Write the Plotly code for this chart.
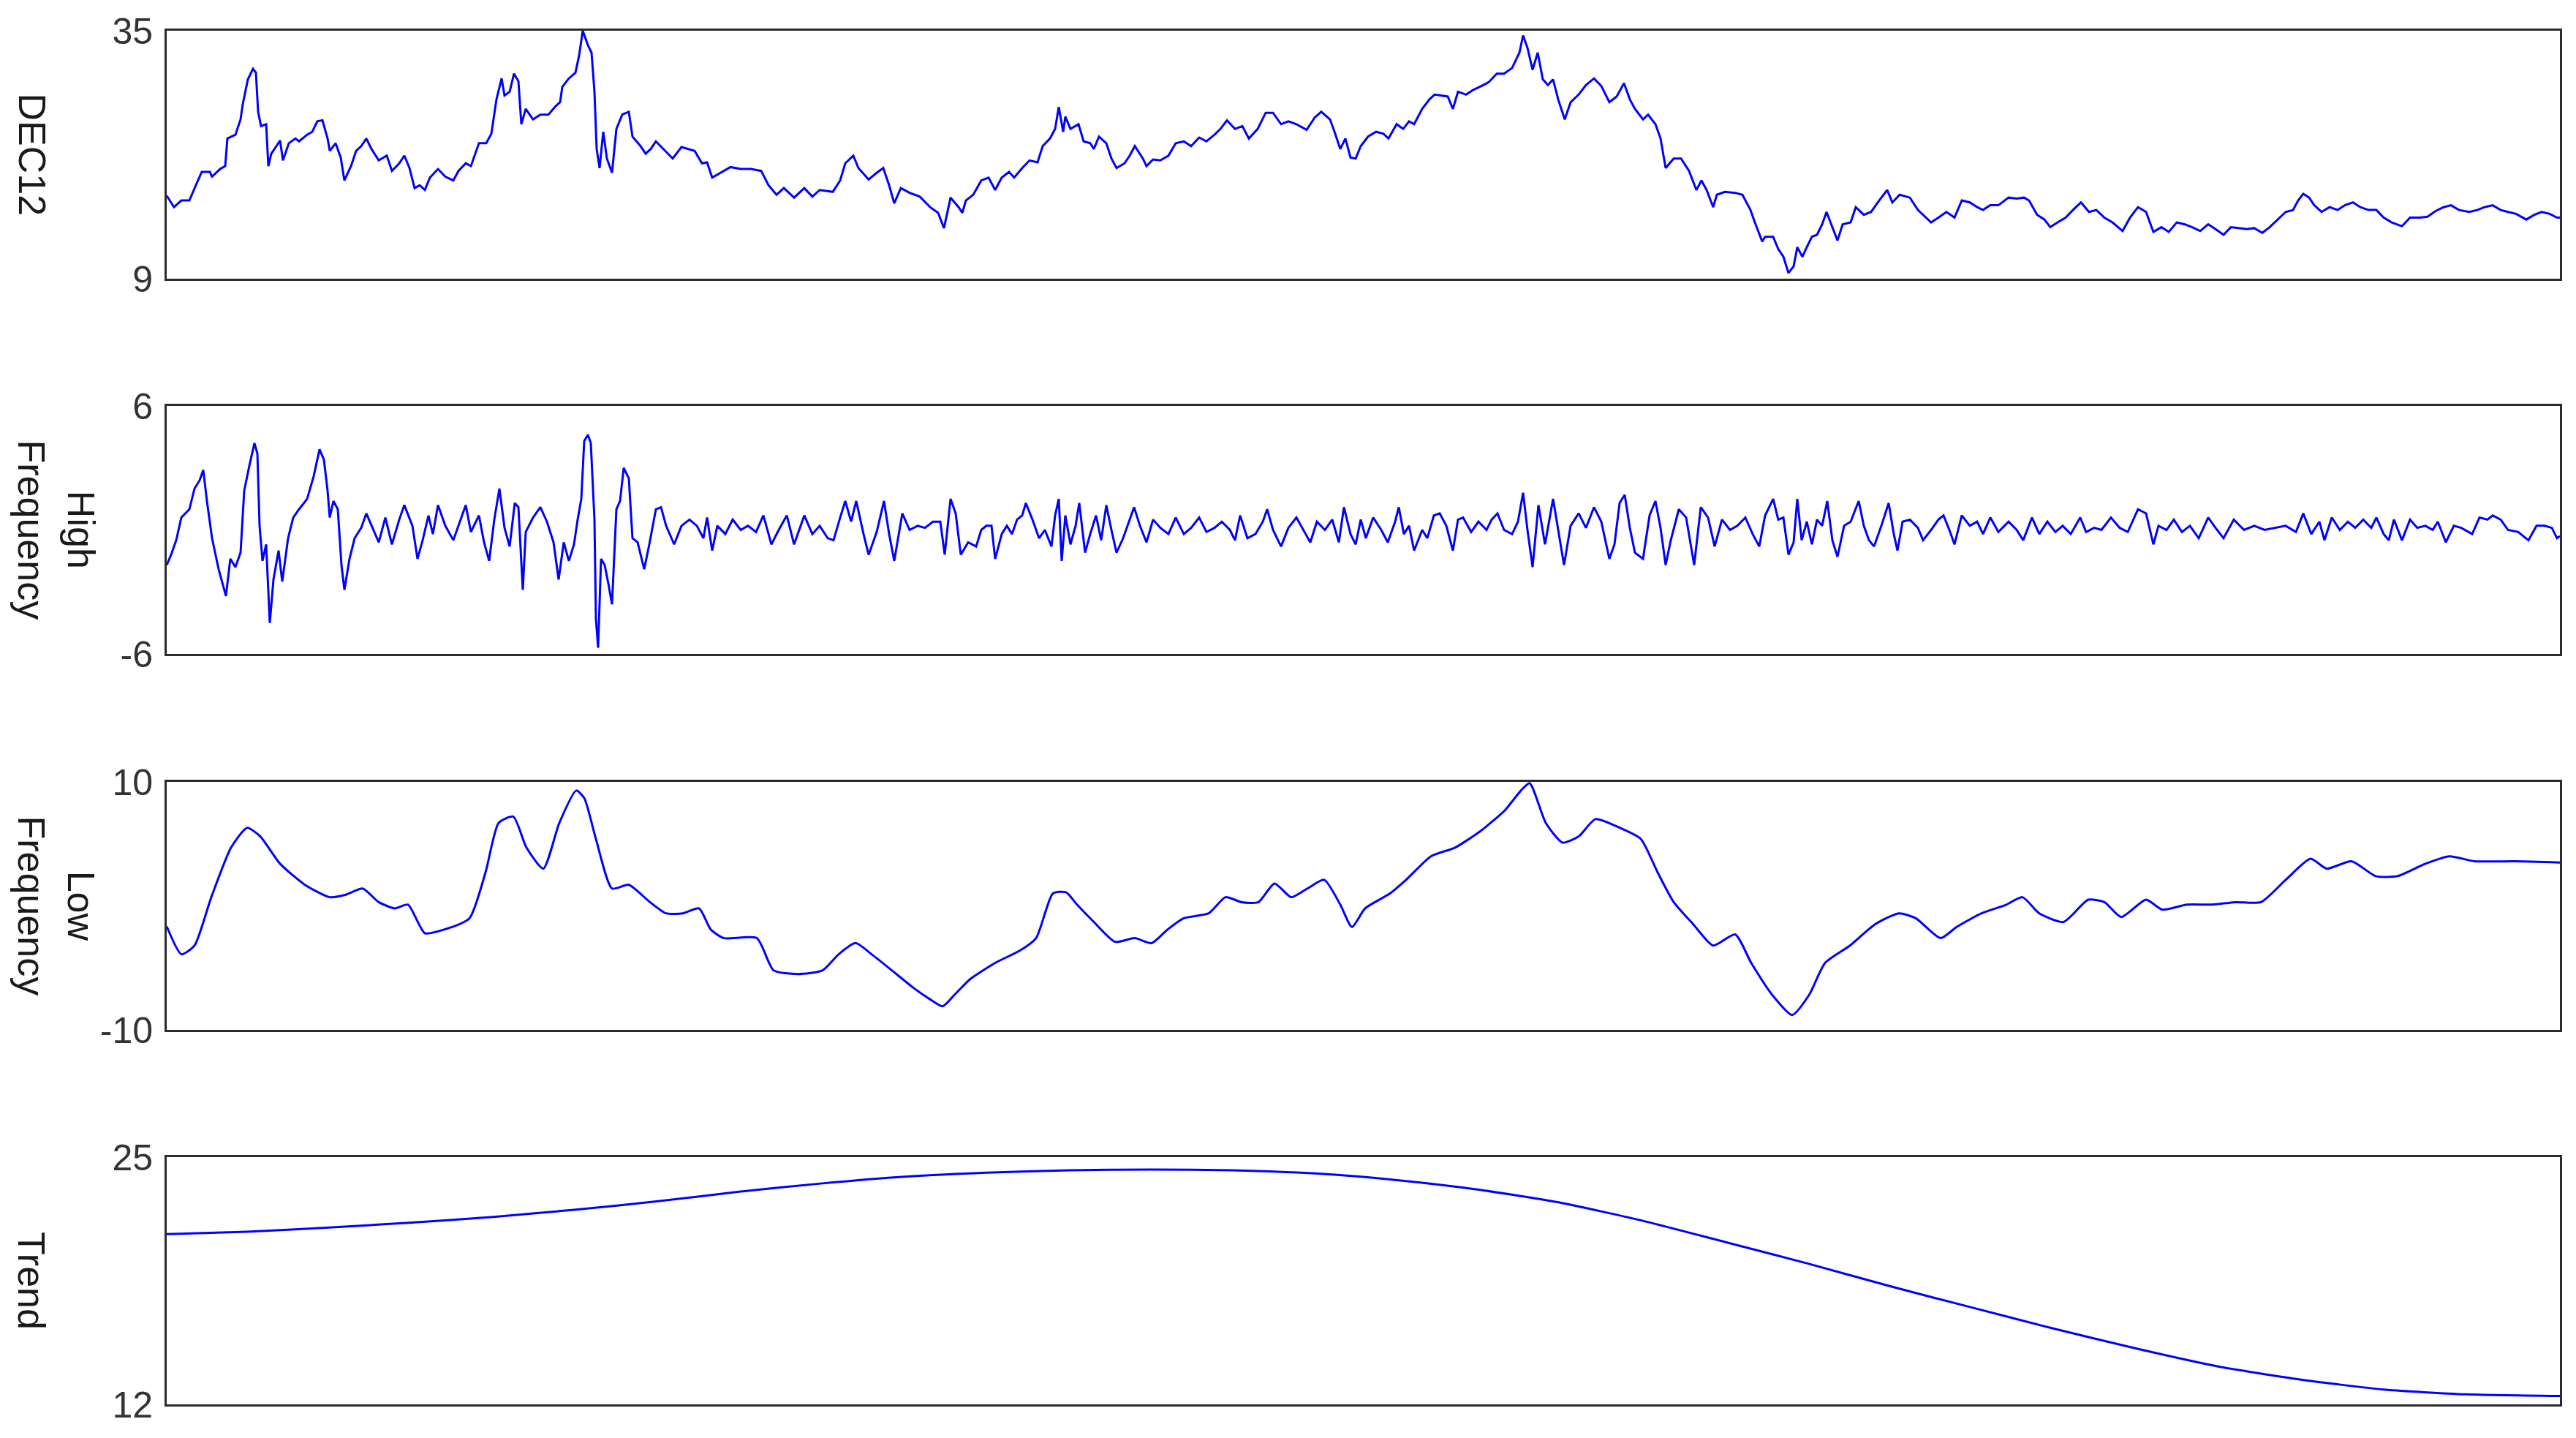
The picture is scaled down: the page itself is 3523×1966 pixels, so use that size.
import plotly.graph_objects as go
from plotly.subplots import make_subplots

# ---------------- data (day index, value) ----------------
dec12 = [
    (0,17.7),(10,16.5),(20,17.2),(31,17.2),(41,19.0),(48,20.2),(59,20.2),(62,19.7),(73,20.5),(80,20.8),
    (83,23.7),(94,24.1),(101,25.7),(104,27.3),(111,29.9),(118,31.0),(122,30.6),(125,26.5),(129,25.0),(136,25.2),
    (139,20.8),(143,22.1),(150,22.9),(155,23.5),(159,21.4),(167,23.2),(176,23.7),(181,23.4),(192,24.1),(199,24.4),
    (206,25.5),(213,25.6),(220,23.7),(223,22.4),(231,23.2),(238,21.7),(243,19.3),(252,20.8),(259,22.4),(266,22.9),
    (273,23.7),(280,22.6),(290,21.4),(301,21.9),(308,20.3),(318,21.1),(325,21.9),(332,20.6),(339,18.5),(346,18.8),
    (353,18.3),(360,19.6),(371,20.5),(381,19.7),(392,19.3),(399,20.3),(409,21.1),(416,20.8),(427,23.2),(437,23.2),
    (444,24.2),(448,26.5),(451,27.8),(458,30.0),(462,28.2),(469,28.6),(475,30.5),(481,29.7),(485,25.2),(491,26.8),
    (501,25.7),(511,26.2),(522,26.2),(532,27.1),(538,27.5),(541,29.1),(550,30.0),(559,30.6),(564,32.4),(569,35.0),
    (576,33.5),(581,32.7),(585,28.6),(588,22.6),(592,20.6),(597,24.4),(602,21.6),(609,20.1),(615,24.7),(623,26.2),
    (632,26.5),(637,23.9),(648,22.9),(655,22.1),(662,22.6),(669,23.4),(679,22.6),(692,21.6),(704,22.8),(722,22.4),
    (732,21.1),(739,21.2),(746,19.6),(757,20.1),(771,20.7),(785,20.5),(799,20.5),(813,20.3),(823,18.8),(834,17.8),
    (844,18.5),(858,17.5),(872,18.5),(883,17.6),(893,18.3),(911,18.1),(921,19.3),(928,21.1),(939,21.9),(946,20.6),
    (960,19.4),(971,20.1),(980,20.6),(988,18.8),(995,16.9),(1004,18.5),(1016,18.0),(1030,17.6),(1044,16.5),(1055,15.9),
    (1063,14.3),(1072,17.5),(1083,16.5),(1088,15.9),(1093,17.2),(1103,17.8),(1114,19.3),(1124,19.6),(1133,18.3),(1142,19.6),
    (1152,20.2),(1159,19.6),(1170,20.6),(1180,21.4),(1191,21.2),(1198,22.9),(1208,23.7),(1215,24.7),(1220,27.0),(1226,24.4),
    (1229,26.0),(1236,24.7),(1247,25.2),(1254,23.4),(1263,23.2),(1268,22.6),(1275,23.9),(1285,23.2),(1292,21.6),(1299,20.6),
    (1310,21.1),(1317,21.9),(1324,22.9),(1335,21.6),(1340,20.8),(1349,21.5),(1359,21.4),(1370,21.9),(1380,23.2),(1391,23.4),
    (1401,22.9),(1412,23.8),(1422,23.4),(1433,24.1),(1441,24.7),(1450,25.6),(1461,24.7),(1471,25.0),(1480,23.7),(1492,24.7),
    (1503,26.4),(1513,26.4),(1524,25.2),(1534,25.5),(1545,25.2),(1559,24.6),(1570,25.9),(1579,26.5),(1591,25.7),(1598,24.2),
    (1605,22.6),(1612,23.7),(1619,21.7),(1626,21.6),(1633,22.9),(1643,23.9),(1654,24.4),(1664,24.2),(1671,23.7),(1682,25.2),
    (1691,24.7),(1699,25.5),(1706,25.2),(1717,26.8),(1727,27.8),(1734,28.3),(1745,28.2),(1752,28.1),(1759,26.8),(1766,28.6),
    (1777,28.3),(1787,28.8),(1798,29.2),(1808,29.6),(1819,30.5),(1829,30.5),(1840,31.1),(1850,32.7),(1855,34.5),(1861,33.2),
    (1868,30.9),(1875,32.7),(1882,29.9),(1889,29.3),(1896,29.9),(1903,27.8),(1912,25.7),(1920,27.5),(1931,28.3),(1941,29.3),
    (1952,30.0),(1962,29.2),(1973,27.5),(1983,28.1),(1993,29.5),(2001,27.8),(2008,26.8),(2019,25.7),(2026,26.2),(2036,25.2),
    (2043,23.7),(2050,20.6),(2061,21.6),(2071,21.6),(2082,20.3),(2092,18.3),(2099,19.3),(2106,18.3),(2115,16.5),(2120,17.8),
    (2131,18.1),(2145,18.0),(2155,17.8),(2166,16.2),(2173,14.7),(2182,12.9),(2186,13.4),(2197,13.4),(2204,12.1),(2211,11.3),
    (2218,9.6),(2225,10.3),(2230,12.3),(2237,11.3),(2243,12.3),(2250,13.4),(2257,13.6),(2264,14.7),(2270,16.0),(2278,14.4),
    (2285,13.0),(2292,14.7),(2303,14.9),(2310,16.5),(2321,15.7),(2331,16.0),(2342,17.2),(2353,18.3),(2360,17.0),(2370,17.8),
    (2384,17.5),(2395,16.2),(2406,15.4),(2413,14.9),(2423,15.4),(2434,16.0),(2445,15.4),(2455,17.2),(2466,17.0),(2476,16.5),
    (2484,16.2),(2494,16.7),(2505,16.7),(2519,17.5),(2530,17.4),(2540,17.5),(2547,17.2),(2558,15.7),(2568,15.2),(2576,14.4),
    (2586,14.9),(2597,15.4),(2607,16.2),(2618,17.0),(2629,16.0),(2639,16.2),(2650,15.4),(2661,14.9),(2675,14.0),(2685,15.4),
    (2696,16.5),(2707,16.0),(2717,13.9),(2728,14.4),(2738,13.9),(2749,14.9),(2760,14.7),(2770,14.4),(2781,14.0),(2792,14.7),
    (2802,14.2),(2813,13.6),(2823,14.4),(2834,14.3),(2845,14.2),(2855,14.3),(2866,13.8),(2876,14.4),(2887,15.2),(2898,16.0),
    (2908,16.2),(2915,17.2),(2922,17.9),(2930,17.5),(2937,16.7),(2947,16.0),(2958,16.5),(2969,16.2),(2979,16.7),(2990,17.0),
    (3000,16.5),(3011,16.2),(3022,16.2),(3032,15.4),(3043,14.9),(3057,14.5),(3068,15.4),(3082,15.4),(3092,15.5),(3103,16.1),
    (3114,16.5),(3124,16.7),(3135,16.2),(3149,16.0),(3160,16.2),(3170,16.5),(3181,16.7),(3192,16.2),(3202,16.0),(3213,15.8),
    (3227,15.2),(3238,15.7),(3248,16.0),(3259,15.8),(3269,15.4),(3273,15.4),
]

high_freq = [
    (0,-1.7),(6,-1.2),(13,-0.5),(20,0.6),(31,1.0),(38,2.0),(45,2.4),(50,2.9),(55,1.4),(62,-0.4),
    (71,-1.9),(76,-2.6),(81,-3.2),(87,-1.4),(94,-1.8),(101,-1.1),(106,1.9),(113,3.1),(120,4.2),(124,3.7),
    (127,0.2),(131,-1.5),(136,-0.7),(141,-4.5),(146,-2.4),(153,-1.0),(158,-2.5),(166,-0.4),(173,0.6),(181,1.0),
    (192,1.5),(201,2.6),(209,3.9),(215,3.4),(220,1.9),(223,0.6),(228,1.4),(234,1.0),(239,-1.7),(243,-2.9),
    (250,-1.4),(257,-0.4),(266,0.1),(273,0.8),(280,0.2),(290,-0.6),(299,0.6),(308,-0.7),(318,0.5),(325,1.2),
    (336,0.2),(343,-1.4),(350,-0.5),(358,0.7),(364,-0.2),(371,1.2),(381,0.2),(392,-0.5),(402,0.5),(409,1.2),
    (416,-0.1),(427,0.7),(434,-0.6),(441,-1.5),(448,0.5),(455,2.0),(462,0.1),(469,-0.8),(476,1.3),(481,1.1),
    (487,-2.9),(491,-0.1),(501,0.6),(511,1.1),(520,0.4),(529,-0.6),(536,-2.4),(543,-0.6),(550,-1.5),(557,-0.7),
    (562,0.5),(567,1.5),(571,4.3),(576,4.6),(580,4.2),(585,0.5),(587,-4.3),(590,-5.7),(594,-1.4),(599,-1.7),
    (604,-2.6),(609,-3.6),(615,1.0),(620,1.4),(625,3.0),(632,2.5),(637,-0.4),(644,-0.6),(653,-1.9),(660,-0.7),
    (669,1.0),(676,1.1),(683,0.2),(694,-0.7),(704,0.2),(715,0.5),(725,0.2),(734,-0.4),(739,0.6),(746,-1.0),
    (753,0.2),(764,-0.2),(774,0.5),(785,0.0),(795,0.2),(806,-0.1),(816,0.7),(827,-0.7),(837,0.0),(848,0.7),
    (858,-0.7),(872,0.7),(883,-0.2),(893,0.2),(904,-0.4),(912,-0.5),(921,0.6),(928,1.4),(936,0.4),(943,1.4),
    (953,-0.2),(960,-1.2),(971,-0.1),(981,1.4),(988,-0.2),(995,-1.5),(1006,0.8),(1016,0.0),(1027,0.2),(1037,0.1),
    (1048,0.4),(1058,0.4),(1064,-1.2),(1072,1.5),(1079,0.8),(1086,-1.2),(1096,-0.6),(1107,-0.8),(1114,0.0),(1121,0.2),
    (1128,0.2),(1133,-1.4),(1142,-0.2),(1149,0.2),(1156,-0.2),(1163,0.5),(1170,0.7),(1175,1.3),(1184,0.5),(1193,-0.4),
    (1201,0.0),(1210,-0.8),(1215,0.7),(1220,1.5),(1224,-1.5),(1229,0.7),(1236,-0.7),(1243,0.2),(1248,1.3),(1256,-1.1),
    (1263,-0.2),(1271,0.7),(1278,-0.5),(1285,1.2),(1292,0.0),(1299,-1.1),(1308,-0.4),(1317,0.5),(1323,1.1),(1331,0.2),
    (1340,-0.6),(1349,0.5),(1359,0.1),(1370,-0.2),(1380,0.6),(1391,-0.2),(1401,0.1),(1412,0.6),(1422,-0.1),(1433,0.1),
    (1443,0.4),(1454,0.0),(1461,-0.5),(1468,0.7),(1478,-0.4),(1489,-0.2),(1499,0.4),(1505,1.0),(1513,0.0),(1524,-0.8),
    (1534,0.1),(1545,0.6),(1556,-0.1),(1564,-0.6),(1573,0.4),(1584,0.0),(1594,0.5),(1603,-0.6),(1610,1.1),(1619,-0.2),
    (1626,-0.7),(1633,0.5),(1640,-0.4),(1650,0.6),(1661,0.0),(1670,-0.6),(1680,0.4),(1685,1.1),(1692,-0.2),(1699,0.2),
    (1706,-1.0),(1717,0.0),(1724,-0.4),(1733,0.7),(1741,0.8),(1750,0.2),(1759,-1.0),(1766,0.5),(1773,0.6),(1784,-0.1),
    (1794,0.4),(1805,0.0),(1812,0.5),(1820,0.8),(1829,0.0),(1840,-0.2),(1848,0.4),(1855,1.8),(1861,0.0),(1868,-1.8),
    (1876,1.2),(1885,-0.7),(1896,1.5),(1903,0.0),(1911,-1.7),(1920,0.2),(1931,0.8),(1941,0.1),(1952,1.1),(1962,0.4),
    (1973,-1.4),(1980,-0.7),(1987,1.3),(1994,1.7),(2001,0.1),(2008,-1.1),(2019,-1.4),(2028,0.7),(2036,1.4),(2043,0.1),
    (2050,-1.7),(2057,-0.5),(2068,1.0),(2078,0.6),(2089,-1.7),(2098,1.1),(2108,0.6),(2117,-0.8),(2127,0.5),(2138,0.0),
    (2148,0.2),(2159,0.6),(2169,-0.2),(2178,-0.8),(2186,0.7),(2197,1.5),(2204,0.5),(2211,0.6),(2218,-1.2),(2225,-0.6),
    (2230,1.5),(2236,-0.5),(2243,0.4),(2250,-0.7),(2257,0.5),(2264,0.2),(2271,1.4),(2278,-0.5),(2285,-1.3),(2294,0.2),
    (2303,0.4),(2314,1.4),(2321,0.2),(2328,-0.5),(2335,-0.8),(2345,0.2),(2355,1.3),(2362,-0.2),(2367,-1.0),(2374,0.4),
    (2384,0.5),(2395,0.1),(2402,-0.5),(2413,0.0),(2423,0.5),(2430,0.7),(2438,0.0),(2445,-0.7),(2455,0.7),(2466,0.2),
    (2476,0.4),(2484,-0.2),(2494,0.6),(2505,-0.1),(2519,0.4),(2530,0.0),(2539,-0.5),(2551,0.6),(2561,-0.2),(2572,0.4),
    (2583,-0.1),(2593,0.2),(2604,-0.2),(2617,0.6),(2625,-0.1),(2636,0.1),(2646,0.0),(2659,0.6),(2671,0.1),(2682,-0.1),
    (2696,1.0),(2707,0.8),(2717,-0.7),(2724,0.2),(2735,0.0),(2745,0.5),(2756,-0.1),(2767,0.2),(2779,-0.4),(2792,0.6),
    (2802,0.1),(2813,-0.4),(2827,0.5),(2841,0.0),(2855,0.2),(2869,0.0),(2884,0.1),(2898,0.2),(2912,-0.1),(2922,0.8),
    (2933,-0.2),(2944,0.4),(2951,-0.5),(2961,0.6),(2972,0.0),(2983,0.4),(2993,0.1),(3004,0.5),(3015,0.1),(3022,0.6),
    (3032,-0.2),(3039,-0.5),(3046,0.5),(3057,-0.5),(3068,0.5),(3078,0.1),(3089,0.2),(3099,0.0),(3106,0.4),(3117,-0.6),
    (3128,0.2),(3138,0.1),(3153,-0.2),(3163,0.6),(3174,0.5),(3181,0.7),(3192,0.5),(3202,0.0),(3216,-0.1),(3230,-0.5),
    (3241,0.2),(3252,0.2),(3262,0.1),(3269,-0.4),(3273,-0.3),
]

low_freq = [
    (0,-1.65),(20,-3.9),(38,-3.2),(61,0.7),(88,4.7),(110,6.3),(128,5.6),(155,3.4),(189,1.7),(223,0.7),
    (245,0.9),(268,1.4),(290,0.3),(312,-0.2),(330,0.1),(353,-2.2),(380,-1.9),(414,-1.0),(436,2.7),(454,6.7),
    (474,7.2),(492,4.7),(515,3.0),(537,6.7),(560,9.3),(571,8.7),(587,5.4),(609,1.4),(632,1.7),(661,0.3),
    (683,-0.6),(706,-0.6),(728,-0.2),(744,-1.9),(762,-2.6),(807,-2.6),(830,-5.2),(863,-5.5),(897,-5.2),(919,-3.9),
    (942,-3.0),(964,-3.9),(998,-5.5),(1021,-6.6),(1043,-7.5),(1061,-8.1),(1077,-7.2),(1099,-5.9),(1133,-4.6),(1167,-3.6),
    (1189,-2.6),(1212,1.0),(1230,1.1),(1245,0.1),(1268,-1.3),(1297,-2.9),(1324,-2.6),(1347,-3.0),(1369,-1.9),(1391,-1.0),
    (1425,-0.6),(1448,0.7),(1470,0.3),(1493,0.3),(1515,1.8),(1538,0.7),(1560,1.4),(1583,2.1),(1605,0.1),(1621,-1.7),
    (1639,-0.2),(1673,1.0),(1695,2.1),(1729,4.0),(1762,4.7),(1796,6.0),(1830,7.7),(1852,9.3),(1864,9.9),(1886,6.7),
    (1909,5.1),(1931,5.6),(1954,7.0),(1987,6.3),(2016,5.4),(2039,2.7),(2061,0.3),(2088,-1.5),(2115,-3.2),(2145,-2.3),
    (2167,-4.6),(2196,-7.2),(2223,-8.8),(2246,-7.2),(2268,-4.6),(2302,-3.2),(2336,-1.5),(2369,-0.6),(2392,-1.0),(2426,-2.6),
    (2448,-1.7),(2482,-0.6),(2516,0.1),(2538,0.7),(2561,-0.6),(2594,-1.3),(2628,0.5),(2650,0.3),(2673,-0.9),(2707,0.5),
    (2729,-0.3),(2763,0.1),(2797,0.1),(2830,0.3),(2864,0.3),(2898,2.1),(2932,3.8),(2954,3.0),(2988,3.6),(3021,2.4),
    (3051,2.4),(3089,3.4),(3122,4.0),(3156,3.6),(3212,3.6),(3273,3.5),
]

trend = [
    (0,20.95),(110,21.08),(222,21.30),(335,21.56),(447,21.86),(560,22.24),(672,22.68),(785,23.19),(897,23.62),(1009,23.97),
    (1121,24.18),(1234,24.31),(1346,24.35),(1458,24.31),(1571,24.14),(1683,23.79),(1796,23.28),(1908,22.59),(2020,21.64),(2133,20.52),
    (2245,19.40),(2358,18.20),(2470,17.08),(2583,15.96),(2694,14.93),(2807,13.98),(2919,13.30),(3032,12.78),(3144,12.53),(3273,12.44),
]

panel_titles = ["DEC12", "High<br>Frequency", "Low<br>Frequency", "Trend"]
y_ranges = [(9, 35), (-6, 6), (-10, 10), (12, 25)]
y_ticktext = [("9", "35"), ("-6", "6"), ("-10", "10"), ("12", "25")]
series = [dec12, high_freq, low_freq, trend]
line_shapes = ["linear", "linear", "spline", "spline"]
DAY_MAX = 3273

# ---------------- figure ----------------
W, H = 3523, 1966
ML, MR, MT, MB = 228, 22, 42, 46
plot_h = H - MT - MB
panel_px = [(42, 381), (555, 894), (1069, 1408), (1582, 1920)]

fig = make_subplots(rows=4, cols=1, shared_xaxes=False, vertical_spacing=0.05)

for i, s in enumerate(series):
    xs = [p[0] for p in s]
    ys = [p[1] for p in s]
    fig.add_trace(go.Scatter(x=xs, y=ys, mode="lines",
                             line=dict(color="#0000ff", width=3, shape=line_shapes[i],
                                       smoothing=0.6 if line_shapes[i] == "spline" else None),
                             showlegend=False, hoverinfo="skip"),
                  row=i + 1, col=1)

axis_line = dict(showline=True, mirror=True, linecolor="#2b2b2b", linewidth=3,
                 showgrid=False, zeroline=False)

for i in range(4):
    top, bot = panel_px[i]
    d0 = (H - MB - bot) / plot_h
    d1 = (H - MB - top) / plot_h
    xa = "xaxis" if i == 0 else f"xaxis{i+1}"
    ya = "yaxis" if i == 0 else f"yaxis{i+1}"
    fig.layout[xa].update(range=[0, DAY_MAX], showticklabels=False, ticks="", **axis_line)
    lo, hi = y_ranges[i]
    fig.layout[ya].update(domain=[d0, d1], range=[lo, hi], tickvals=[lo, hi],
                          ticktext=list(y_ticktext[i]), ticks="",
                          ticklabelstandoff=6,
                          tickfont=dict(size=50, color="#333333",
                                        family="Liberation Sans, Arial, sans-serif"),
                          **axis_line)
    # rotated axis title (reads top to bottom)
    two_line = "<br>" in panel_titles[i]
    xc = 77 if two_line else 43
    fig.add_annotation(text=panel_titles[i], xref="paper", yref="paper",
                       x=(xc - ML) / (W - ML - MR), y=(d0 + d1) / 2,
                       xanchor="center", yanchor="middle", textangle=90,
                       showarrow=False,
                       font=dict(size=52, color="#1a1a1a",
                                 family="Liberation Sans, Arial, sans-serif"))

fig.update_layout(width=W, height=H, autosize=False,
                  margin=dict(l=ML, r=MR, t=MT, b=MB),
                  paper_bgcolor="white", plot_bgcolor="white")

fig.write_html("out.html",
               config={"displayModeBar": False},
               post_script="document.body.style.margin='0';document.body.style.overflow='hidden';")
